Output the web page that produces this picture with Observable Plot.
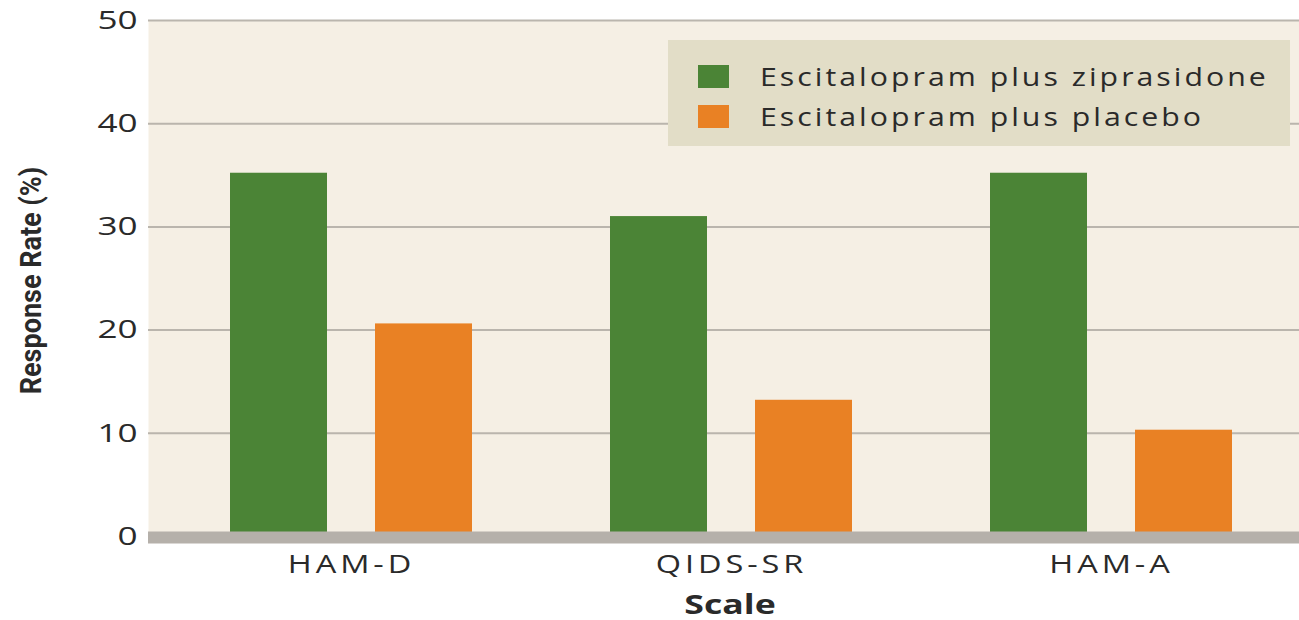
<!DOCTYPE html>
<html>
<head>
<meta charset="utf-8">
<script src="https://cdn.jsdelivr.net/npm/d3@7"></script>
<script src="https://cdn.jsdelivr.net/npm/@observablehq/plot@0.6"></script>
<style>
  html, body { margin: 0; padding: 0; background: #ffffff; }
  #wrap { position: relative; width: 1299px; height: 620px; overflow: hidden; }
  #legend {
    position: absolute; left: 668px; top: 40px; width: 622px; height: 106px;
    background: #e2ddc7; box-sizing: border-box; padding-top: 16px; padding-left: 30px;
    font-family: "Open Sans", sans-serif; font-size: 25px; color: #2a2a2a; letter-spacing: 2.5px;
  }
  .item { display: flex; align-items: center; height: 40px; }
  .sw { width: 31px; height: 23px; margin-right: 31px; flex: none; }
  .item span { display: inline-block; transform: scaleX(1.21); transform-origin: left center; white-space: nowrap; }
</style>
</head>
<body>
<div id="wrap"></div>
<script>
const scales = ["HAM-D", "QIDS-SR", "HAM-A"];
const series = ["Escitalopram plus ziprasidone", "Escitalopram plus placebo"];
const ziprasidone = [35.2, 31.0, 35.2];
const placebo = [20.6, 13.2, 10.3];
const yTicks = [0, 10, 20, 30, 40, 50];
const colors = ["#4b8436", "#e98124"];

const zipData = scales.map((s, i) => ({scale: s, value: ziprasidone[i]}));
const plaData = scales.map((s, i) => ({scale: s, value: placebo[i]}));

const tickFont = {fontFamily: "'Open Sans', sans-serif", fill: "#2a2a2a"};

const chart = Plot.plot({
  width: 1299,
  height: 620,
  marginLeft: 148,
  marginRight: 0,
  marginTop: 20,
  marginBottom: 84,
  style: {background: "transparent", fontFamily: "'Open Sans', sans-serif", color: "#2a2a2a"},
  x: {type: "band", domain: scales, range: [161, 1301], padding: 0, axis: null},
  y: {domain: [0, 50], axis: null},
  marks: [
    Plot.frame({fill: "#f5efe4", stroke: null}),
    Plot.gridY(yTicks.slice(1), {stroke: "#bab5ad", strokeOpacity: 1, strokeWidth: 2}),
    Plot.barY(zipData, {x: "scale", y: "value", fill: colors[0], insetLeft: 69, insetRight: 214}),
    Plot.barY(plaData, {x: "scale", y: "value", fill: colors[1], insetLeft: 214, insetRight: 69}),
    Plot.ruleY([0], {stroke: "#b5b0aa", strokeWidth: 12, dy: 1}),
    Plot.axisY({ticks: yTicks, tickSize: 0, tickPadding: 11, fontSize: 26, label: null, ...tickFont}),
    Plot.axisX({tickSize: 0, tickPadding: 19, fontSize: 25, label: null, ...tickFont}),
    Plot.text(["Scale"], {frameAnchor: "bottom", dy: 77, dx: 6, fontSize: 26, fontWeight: "bold", fill: "#2a2a2a", fontFamily: "'Open Sans', sans-serif"}),
    Plot.text(["Response Rate (%)"], {frameAnchor: "left", textAnchor: "middle", dx: -117, dy: 2, rotate: -90, fontSize: 30, fontWeight: "bold", fill: "#2a2a2a", fontFamily: "'Roboto', sans-serif"})
  ]
});
const wrap = document.getElementById("wrap");
wrap.appendChild(chart);

function stretch(selector, k, spacing) {
  chart.querySelectorAll(selector).forEach(t => {
    if (spacing) t.style.letterSpacing = spacing + "px";
    const L = t.getComputedTextLength();
    t.setAttribute("textLength", (L * k).toFixed(1));
    t.setAttribute("lengthAdjust", "spacingAndGlyphs");
  });
}
stretch("g[aria-label='y-axis tick label'] text", 1.35, 0);
stretch("g[aria-label='x-axis tick label'] text", 1.3, 3);
const texts = chart.querySelectorAll("g[aria-label='text'] text");
texts.forEach(t => {
  const L = t.getComputedTextLength();
  const k = t.textContent === "Scale" ? 1.37 : 0.9;
  t.setAttribute("textLength", (L * k).toFixed(1));
  t.setAttribute("lengthAdjust", "spacingAndGlyphs");
});

const legend = document.createElement("div");
legend.id = "legend";
series.forEach((name, i) => {
  const item = document.createElement("div");
  item.className = "item";
  const sw = document.createElement("div");
  sw.className = "sw";
  sw.style.background = colors[i];
  const label = document.createElement("span");
  label.textContent = name;
  item.appendChild(sw);
  item.appendChild(label);
  legend.appendChild(item);
});
wrap.appendChild(legend);
</script>
</body>
</html>
